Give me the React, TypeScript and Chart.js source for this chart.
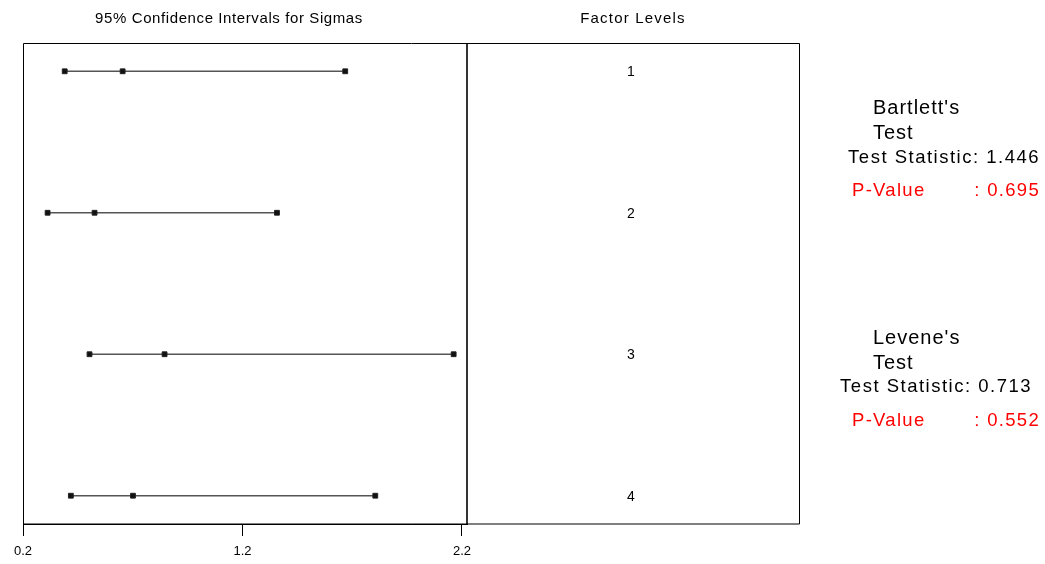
import React, { useEffect, useRef } from "react";
import { Chart, registerables } from "chart.js";

Chart.register(...registerables);

// Factor levels and the 95% confidence intervals for each sigma
const levels = ["1", "2", "3", "4"];
const lowerCI = [0.39, 0.312, 0.503, 0.418];
const sigmaEst = [0.654, 0.526, 0.845, 0.701];
const upperCI = [1.668, 1.357, 2.162, 1.805];

const xTicks = [0.2, 1.2, 2.2];

const leftTitle = "95% Confidence Intervals for Sigmas";
const rightTitle = "Factor Levels";

const bartlettStat = "1.446";
const bartlettP = "0.695";
const leveneStat = "0.713";
const leveneP = "0.552";

const FONT = "'Liberation Sans', Arial, Helvetica, sans-serif";

function txt(
  ctx: CanvasRenderingContext2D,
  s: string,
  x: number,
  y: number,
  size: number,
  color = "#000",
  align: CanvasTextAlign = "left",
  spacing = 0
) {
  ctx.save();
  ctx.font = `${size}px ${FONT}`;
  (ctx as any).letterSpacing = `${spacing}px`;
  ctx.fillStyle = color;
  ctx.textAlign = align;
  ctx.textBaseline = "alphabetic";
  ctx.fillText(s, x, y);
  ctx.restore();
}

const panelPlugin = {
  id: "panelPlugin",
  afterDraw(chart: any) {
    const { ctx, chartArea } = chart;
    const { left, right, top, bottom } = chartArea;
    const yScale = chart.scales.y;
    const panelRight = 799;

    ctx.save();
    ctx.strokeStyle = "#000";
    ctx.lineWidth = 1;
    // outer frame spanning both panels
    ctx.beginPath();
    ctx.moveTo(left + 0.5, bottom);
    ctx.lineTo(left + 0.5, top + 0.5);
    ctx.lineTo(panelRight + 0.5, top + 0.5);
    ctx.lineTo(panelRight + 0.5, bottom);
    ctx.lineTo(left, bottom);
    ctx.stroke();
    // divider between the interval panel and the level labels
    ctx.lineWidth = 1.6;
    ctx.beginPath();
    ctx.moveTo(right, top);
    ctx.lineTo(right, bottom);
    ctx.stroke();
    ctx.restore();

    // panel titles
    txt(ctx, leftTitle, 229, 23, 15, "#000", "center", 0.6);
    txt(ctx, rightTitle, 633, 23, 15, "#000", "center", 1.2);

    // factor level labels
    levels.forEach((lv, i) => {
      const y = yScale.getPixelForValue(i + 1);
      txt(ctx, lv, 631, y + 5, 14, "#000", "center");
    });

    // test summaries
    txt(ctx, "Bartlett's", 873, 114, 20, "#000", "left", 1);
    txt(ctx, "Test", 873, 139, 20, "#000", "left", 1);
    txt(ctx, "Test Statistic: " + bartlettStat, 1040, 163, 18.5, "#000", "right", 1.5);
    txt(ctx, "P-Value", 852, 196, 18.5, "#ff0000", "left", 1.3);
    txt(ctx, ": " + bartlettP, 1040, 196, 18.5, "#ff0000", "right", 1.3);

    txt(ctx, "Levene's", 873, 344, 20, "#000", "left", 1);
    txt(ctx, "Test", 873, 369, 20, "#000", "left", 1);
    txt(ctx, "Test Statistic: " + leveneStat, 1032, 392, 18.5, "#000", "right", 1.5);
    txt(ctx, "P-Value", 852, 426, 18.5, "#ff0000", "left", 1.3);
    txt(ctx, ": " + leveneP, 1040, 426, 18.5, "#ff0000", "right", 1.3);
  },
};

export default function App() {
  const ref = useRef<HTMLCanvasElement | null>(null);

  useEffect(() => {
    if (!ref.current) return;
    const datasets = levels.map((_, i) => ({
      label: levels[i],
      data: [
        { x: lowerCI[i], y: i + 1 },
        { x: sigmaEst[i], y: i + 1 },
        { x: upperCI[i], y: i + 1 },
      ],
      showLine: true,
      borderColor: "#555",
      borderWidth: 1.6,
      pointStyle: "rect" as const,
      pointRadius: 3.4,
      pointBackgroundColor: "#111",
      pointBorderColor: "#222",
      pointBorderWidth: 1,
    }));

    const chart = new Chart(ref.current, {
      type: "scatter",
      data: { datasets },
      options: {
        animation: false,
        responsive: false,
        events: [],
        layout: { padding: { left: 23, top: 43, right: 578, bottom: 0 } },
        plugins: {
          legend: { display: false },
          tooltip: { enabled: false },
        },
        scales: {
          x: {
            type: "linear",
            min: 0.2,
            max: 2.2228,
            afterBuildTicks: (s: any) => {
              s.ticks = xTicks.map((v) => ({ value: v }));
            },
            afterFit: (s: any) => {
              s.height = 40;
            },
            ticks: {
              color: "#000",
              font: { family: FONT, size: 13 },
              padding: 8,
              maxRotation: 0,
              callback: (v: any) => Number(v).toFixed(1),
            },
            grid: {
              drawOnChartArea: false,
              drawTicks: true,
              tickLength: 12,
              color: "#000",
              lineWidth: 1,
            },
            border: { display: true, color: "#000", width: 1 },
          },
          y: {
            type: "linear",
            min: 0.8,
            max: 4.2,
            reverse: true,
            display: false,
          },
        },
      },
      plugins: [panelPlugin],
    });
    return () => chart.destroy();
  }, []);

  return (
    <div style={{ position: "fixed", left: 0, top: 0, width: 1045, height: 564, background: "#fff" }}>
      <canvas ref={ref} width={1045} height={564} />
    </div>
  );
}
